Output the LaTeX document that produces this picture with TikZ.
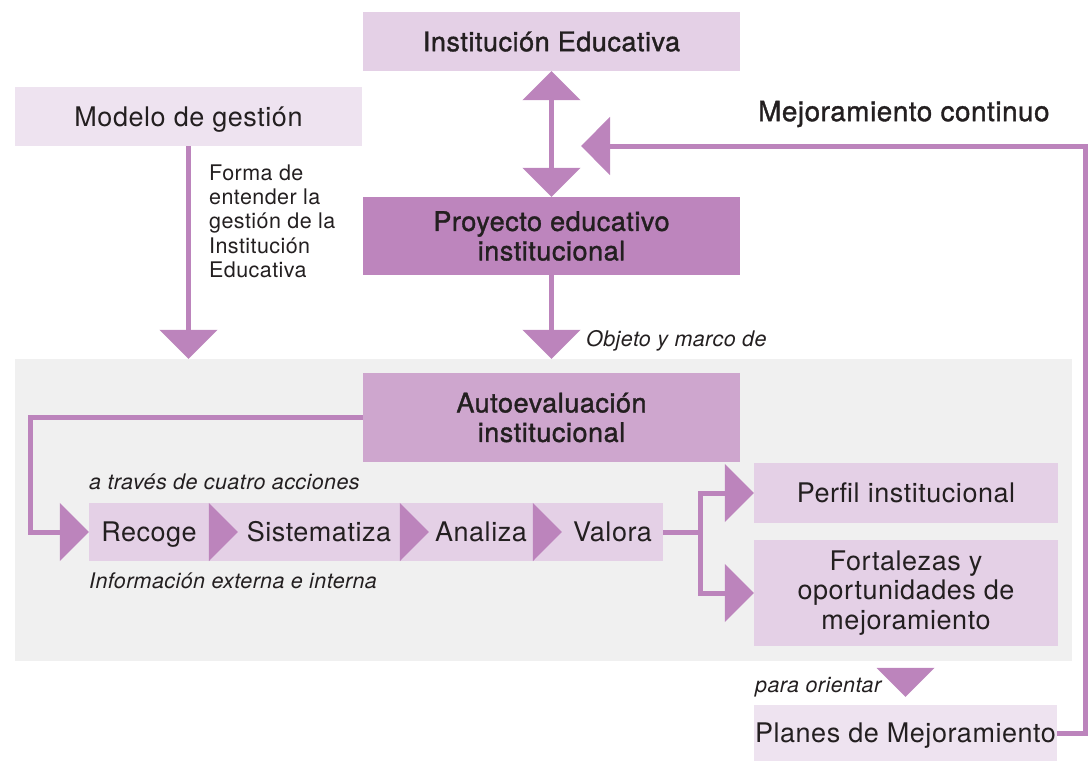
\documentclass[tikz,border=0pt]{standalone}
\usepackage{fontspec}
\setmainfont[LetterSpace=2]{TeX Gyre Heros}
\newfontfamily\medfont[LetterSpace=2,FakeBold=1.3]{TeX Gyre Heros}
\usetikzlibrary{arrows.meta,calc}
\definecolor{lineC}{HTML}{BC84BC}
\definecolor{proyC}{HTML}{BD85BD}
\definecolor{autoC}{HTML}{CEA6CE}
\definecolor{lightC}{HTML}{E4D0E6}
\definecolor{lighterC}{HTML}{EEE3F0}
\definecolor{grayC}{HTML}{F0F0F0}
\definecolor{txtC}{HTML}{231F20}
\tikzset{
  box/.style={rectangle, inner sep=0pt, align=center, text=txtC},
  oneline/.style={text height=24pt, text depth=4.6pt},
  bigtxt/.style={font=\fontsize{27}{29.5}\selectfont},
  medtxt/.style={font=\fontsize{27}{29.5}\selectfont\medfont},
  smalltxt/.style={font=\fontsize{21.5}{24.3}\selectfont, text=txtC, inner sep=0pt},
  itxt/.style={font=\fontsize{21.5}{24.3}\selectfont\itshape, text=txtC, inner sep=0pt},
  conn/.style={draw=lineC, line width=5pt},
  bigtip/.style={-{Triangle[width=57pt,length=29pt]}},
  bothtip/.style={{Triangle[width=57pt,length=29pt]}-{Triangle[width=57pt,length=29pt]}},
  tri/.style={fill=lineC}
}
\begin{document}
\begin{tikzpicture}[x=1pt,y=-1pt]
\useasboundingbox (0,0) rectangle (1088,761);
% panel
\node[box, fill=grayC, minimum width=1057pt, minimum height=302pt] (panel) at (543.5,510) {};
% boxes
\node[box, medtxt, oneline, fill=lightC, minimum width=377pt, minimum height=59pt] (inst) at (551.5,41.5) {Institución Educativa};
\node[box, bigtxt, oneline, fill=lighterC, minimum width=347pt, minimum height=59pt] (modelo) at (188.5,116.5) {Modelo de gestión};
\node[box, medtxt, fill=proyC, minimum width=377pt, minimum height=78pt] (proy) at (551.5,236) {Proyecto educativo\\institucional};
\node[box, medtxt, fill=autoC, minimum width=377pt, minimum height=89pt] (auto) at (551.5,417.5) {Autoevaluación\\institucional};
\node[box, bigtxt, oneline, fill=lightC, minimum width=120pt, minimum height=58pt] (recoge) at (149,532) {Recoge};
\node[box, bigtxt, oneline, fill=lightC, minimum width=191pt, minimum height=58pt] (sist) at (304.5,532) {\hspace*{29pt}Sistematiza};
\node[box, bigtxt, oneline, fill=lightC, minimum width=133pt, minimum height=58pt] (anal) at (466.5,532) {\hspace*{29pt}Analiza};
\node[box, bigtxt, oneline, fill=lightC, minimum width=130pt, minimum height=58pt] (valora) at (598,532) {\hspace*{29pt}Valora};
\node[box, bigtxt, oneline, fill=lightC, minimum width=304pt, minimum height=60pt] (perfil) at (906,493) {Perfil institucional};
\node[box, bigtxt, fill=lightC, minimum width=304pt, minimum height=106pt] (fort) at (906,593) {Fortalezas y\\oportunidades de\\mejoramiento};
\node[box, bigtxt, oneline, fill=lighterC, minimum width=303pt, minimum height=56pt] (planes) at (905.5,733) {Planes de Mejoramiento};
% inner triangles of the row
\foreach \n in {sist,anal,valora}{
  \fill[tri] (\n.north west) -- (\n.south west) -- ($(\n.west)+(29,0)$) -- cycle;
}
% texts
\node[smalltxt, anchor=north west, align=left] (forma) at (209,164.5) {Forma de\\entender la\\gestión de la\\Institución\\Educativa};
\node[itxt, anchor=west] (objeto) at (586,341) {Objeto y marco de};
\node[itxt, anchor=west] (atraves) at (89,482) {a través de cuatro acciones};
\node[itxt, anchor=west] (info) at (89,581) {Información externa e interna};
\node[itxt, anchor=west] (para) at (755,687) {para orientar};
\node[font=\fontsize{27.8}{30}\selectfont\medfont, text=txtC, inner sep=0pt, anchor=west] (mejc) at (758,114) {Mejoramiento continuo};
\coordinate (mctip) at (581,146);
% connectors
\draw[conn, bothtip] (inst.south) -- (proy.north);
\draw[conn, bigtip] (modelo.south) -- (modelo.south |- panel.north);
\draw[conn, bigtip] (proy.south) -- (proy.south |- panel.north);
\draw[conn, bigtip] (auto.west) -- (30,417.5) |- (recoge.west);
\draw[conn] (valora.east) -- (700,532);
\draw[conn, bigtip] (700,532) |- (perfil.west);
\draw[conn, bigtip] (700,532) |- (fort.west);
\draw[conn, bigtip] (planes.east) -- (1085,733) |- (mctip);
\fill[tri] ($(planes.north)+(-29,-37)$) -- ($(planes.north)+(29,-37)$) -- ($(planes.north)+(0,-8)$) -- cycle;
\end{tikzpicture}
\end{document}
